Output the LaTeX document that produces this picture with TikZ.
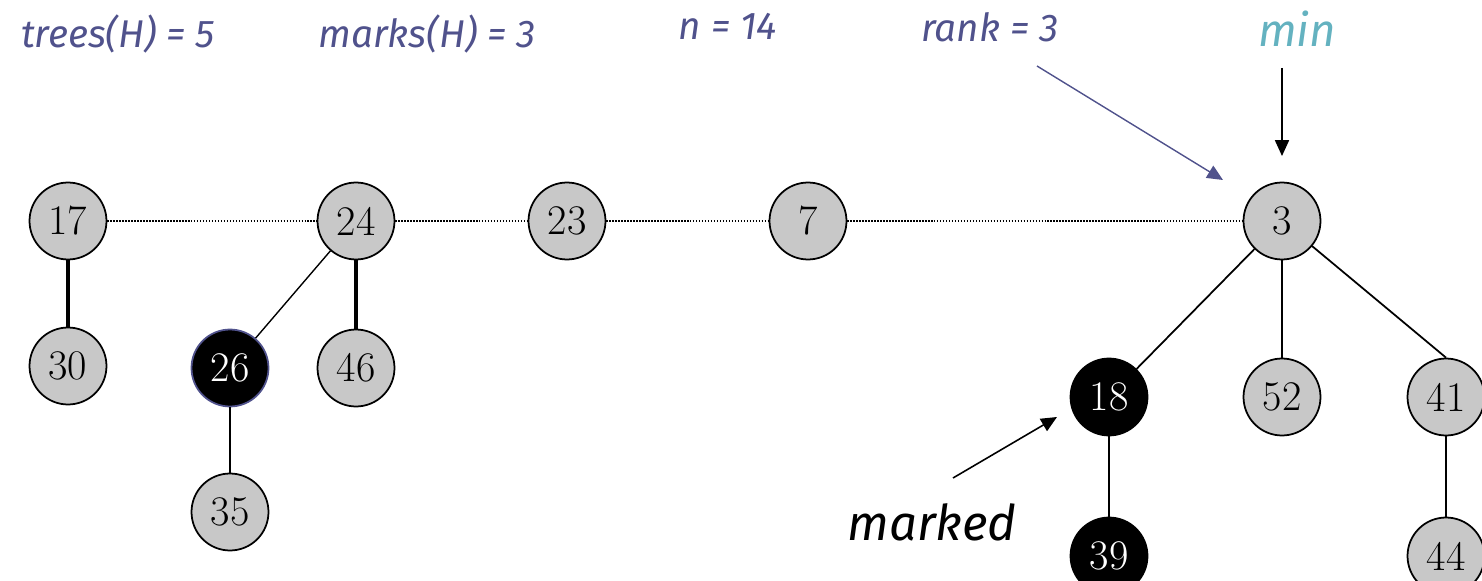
\documentclass[tikz,border=0pt]{standalone}
\usepackage{fontspec}
\newfontfamily\labelfont{Fira Sans}
\usepackage{tikz}
\usetikzlibrary{arrows.meta}
\usepackage{xcolor}
\definecolor{Slate}  {RGB}{80, 82, 140}
\definecolor{TealL}  {RGB}{100,178,192}
\definecolor{KeyGray}{RGB}{200,200,200}

\begin{document}
\begin{tikzpicture}[x=0.02cm,y=-0.02cm,
    key/.style={circle,draw=black,line width=1pt,fill=KeyGray,minimum size=1.54cm,inner sep=0pt,font=\fontsize{24}{24}\selectfont},
    markedkey/.style={key,fill=black,text=white},
    info/.style={font=\labelfont\fontsize{22}{26}\selectfont\itshape,text=Slate,anchor=base,inner sep=0pt},
    rootlink/.style={draw=black,line width=0.7pt,dash pattern=on 0.85pt off 0.85pt},
    pointer/.style={-{Triangle[length=9pt,width=8pt]},line width=0.8pt}]
        \clip (0,0) rectangle (1482,581);
        % root list
        \foreach \k/\x in {17/68,24/356,23/567,7/808,3/1282}{
          \node[key] (k\k) at (\x,221) {\k};
        }
        \foreach \a/\b in {17/24,24/23,23/7,7/3}{
          \draw[rootlink] (k\a) -- (k\b);
        }
        % children
        \node[key] (k30) at (68,366) {30};
        \node[markedkey,draw=Slate] (k26) at (230,368) {26};
        \node[key] (k46) at (356,368) {46};
        \node[key] (k35) at (230,512) {35};
        \node[markedkey] (k18) at (1109,397) {18};
        \node[key] (k52) at (1282,397) {52};
        \node[key] (k41) at (1446,397) {41};
        \node[markedkey] (k39) at (1109,556) {39};
        \node[key] (k44) at (1446,556) {44};
        \draw[line width=2pt] (k17) -- (k30);
        \draw[line width=2pt] (k24) -- (k46);
        \draw[line width=0.8pt] (k24) -- (k26);
        \draw[line width=1.2pt] (k26) -- (k35);
        \foreach \c in {18,52}{
          \draw[line width=1pt] (k3) -- (k\c);
        }
        \draw[line width=1pt] (k3) -- (k41.north);
        \draw[line width=1.2pt] (k18) -- (k39);
        \draw[line width=1.2pt] (k41) -- (k44);
        % labels
        \node[info] (trees) at (118,48) {trees(H) = 5};
        \node[info] (marks) at (427,48) {marks(H) = 3};
        \node[info] (size) at (728,40) {n = 14};
        \node[info] (rank) at (990,42) {rank = 3};
        \node[info,text=TealL,font=\labelfont\fontsize{26}{30}\selectfont\itshape] (min) at (1297,47) {min};
        \node[info,text=black,font=\labelfont\fontsize{28}{32}\selectfont\itshape] (marked) at (932,540) {marked};
        % pointers
        \coordinate (rankfrom) at (1037,66);
        \coordinate (rankto) at (1223,180);
        \coordinate (minfrom) at (1282,68);
        \coordinate (minto) at (1282,156);
        \coordinate (markfrom) at (953,478);
        \coordinate (markto) at (1057,417);
        \draw[pointer,draw=Slate,fill=Slate] (rankfrom) -- (rankto);
        \draw[pointer] (minfrom) -- (minto);
        \draw[pointer,line width=0.9pt] (markfrom) -- (markto);
      \end{tikzpicture}
\end{document}
